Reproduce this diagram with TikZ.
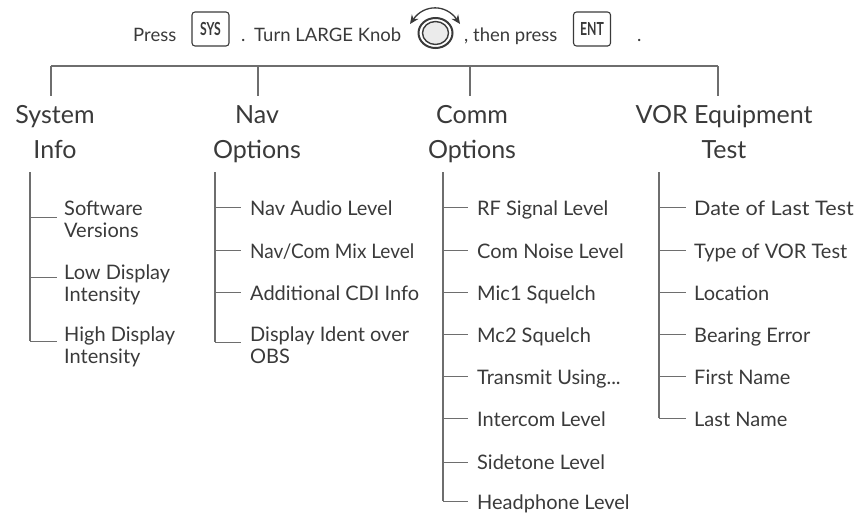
\documentclass[tikz,border=0pt]{standalone}
\usepackage{fontspec}
\setmainfont{Lato}
\usetikzlibrary{arrows.meta,shapes.geometric}
\definecolor{ink}{HTML}{3A3A3A}
\definecolor{rule}{HTML}{6E6E6E}
\tikzset{
  x=1pt,y=-1pt,
  conn/.style={draw=rule,line width=1.4pt},
  tick/.style={draw=rule,line width=1pt},
  head/.style={font=\fontsize{25}{27}\selectfont,text=ink,inner sep=0pt,anchor=base},
  item/.style={font=\fontsize{20}{21.5}\selectfont,text=ink,inner sep=0pt,anchor=base west,align=left},
  top/.style={font=\fontsize{18.5}{20}\selectfont,text=ink,inner sep=0pt,anchor=base west},
  key/.style={draw=ink,line width=1.1pt,rounded corners=3pt,minimum width=37pt,minimum height=34pt,inner sep=0pt,font=\bfseries\fontsize{18}{19}\selectfont,text=ink},
  knobring/.style={ellipse,inner sep=0pt,draw=ink},
}
\newcommand{\keytext}[1]{\scalebox{0.68}[1]{#1}}
\newcommand{\fitw}[2]{\scalebox{#1}[1]{#2}}
\begin{document}
\begin{tikzpicture}
\useasboundingbox (0,0) rectangle (858,512);
\node[top] (press) at (133,41) {Press};
\node[key] (sys) at (210.5,29) {\keytext{SYS}};
\node[top] (dota) at (241,41) {.};
\node[top] (turn) at (254,41) {Turn LARGE Knob};
\node[top] (then) at (464,41) {, then press};
\node[key] (ent) at (592,29) {\keytext{ENT}};
\node[top] (dotb) at (637,41) {.};
% knob
\node[knobring,line width=2pt,fill=white,minimum width=34pt,minimum height=30pt] (knob) at (435.5,33) {};
\node[knobring,line width=1.4pt,fill=black!8,minimum width=26pt,minimum height=23pt] (knobin) at (knob) {};
\coordinate (arcL) at (410,24);
\coordinate (arcR) at (460,24);
\draw[ink,line width=1.3pt,{Stealth[length=9pt,width=8pt]}-{Stealth[length=9pt,width=8pt]}] (arcL) .. controls (424,4) and (446,4) .. (arcR);
% top bar
\coordinate (c1) at (51,66);
\coordinate (c2) at (258,66);
\coordinate (c3) at (470,66);
\coordinate (c4) at (718,66);
\coordinate (d1) at (51,96);
\coordinate (d2) at (258,96);
\coordinate (d3) at (470,96);
\coordinate (d4) at (718,96);
\draw[conn] (c1) -- (c4);
\draw[conn] (c1) -- (d1);
\draw[conn] (c2) -- (d2);
\draw[conn] (c3) -- (d3);
\draw[conn] (c4) -- (d4);
% headings
\node[head] (h1a) at (55,123) {System};
\node[head] (h1b) at (55,158) {Info};
\node[head] (h2a) at (257,123) {Nav};
\node[head] (h2b) at (257,158) {Options};
\node[head] (h3a) at (472,123) {Comm};
\node[head] (h3b) at (472,158) {Options};
\node[head] (h4a) at (724,123) {VOR Equipment};
\node[head] (h4b) at (724,158) {Test};
% items
\node[item] (a1) at (64,237) {Software\\Versions};
\node[item] (a2) at (64,301) {Low Display\\Intensity};
\node[item] (a3) at (64,363) {High Display\\Intensity};
\node[item] (b1) at (250,215) {Nav Audio Level};
\node[item] (b2) at (250,258) {\fitw{0.95}{Nav/Com Mix Level}};
\node[item] (b3) at (250,300) {Additional CDI Info};
\node[item] (b4) at (250,363) {Display Ident over\\OBS};
\node[item] (c1i) at (477,215) {RF Signal Level};
\node[item] (c2i) at (477,258) {Com Noise Level};
\node[item] (c3i) at (477,300) {Mic1 Squelch};
\node[item] (c4i) at (477,342) {Mc2 Squelch};
\node[item] (c5i) at (477,384) {Transmit Using...};
\node[item] (c6i) at (477,426) {Intercom Level};
\node[item] (c7i) at (477,469) {Sidetone Level};
\node[item] (c8i) at (477,509) {Headphone Level};
\node[item] (d1i) at (694,215) {\fitw{1.08}{Date of Last Test}};
\node[item] (d2i) at (694,258) {Type of VOR Test};
\node[item] (d3i) at (694,300) {Location};
\node[item] (d4i) at (694,342) {Bearing Error};
\node[item] (d5i) at (694,384) {First Name};
\node[item] (d6i) at (694,426) {Last Name};
% trunks and ticks
\foreach \n/\x/\e in {a/30/341,b/215/342,c/443/501,d/659/418}{
  \coordinate (t\n) at (\x,172);
  \coordinate (b\n) at (\x,\e);
  \draw[conn] (t\n) -- (b\n);
}
\foreach \y in {217,277,341}
  \draw[tick] (30,\y) -- (57,\y);
\foreach \y in {207,250,292,342}
  \draw[tick] (215,\y) -- (241,\y);
\foreach \y in {207,250,292,334,376,418,462,501}
  \draw[tick] (443,\y) -- (468,\y);
\foreach \y in {207,250,292,334,376,418}
  \draw[tick] (659,\y) -- (686,\y);
\end{tikzpicture}
\end{document}
